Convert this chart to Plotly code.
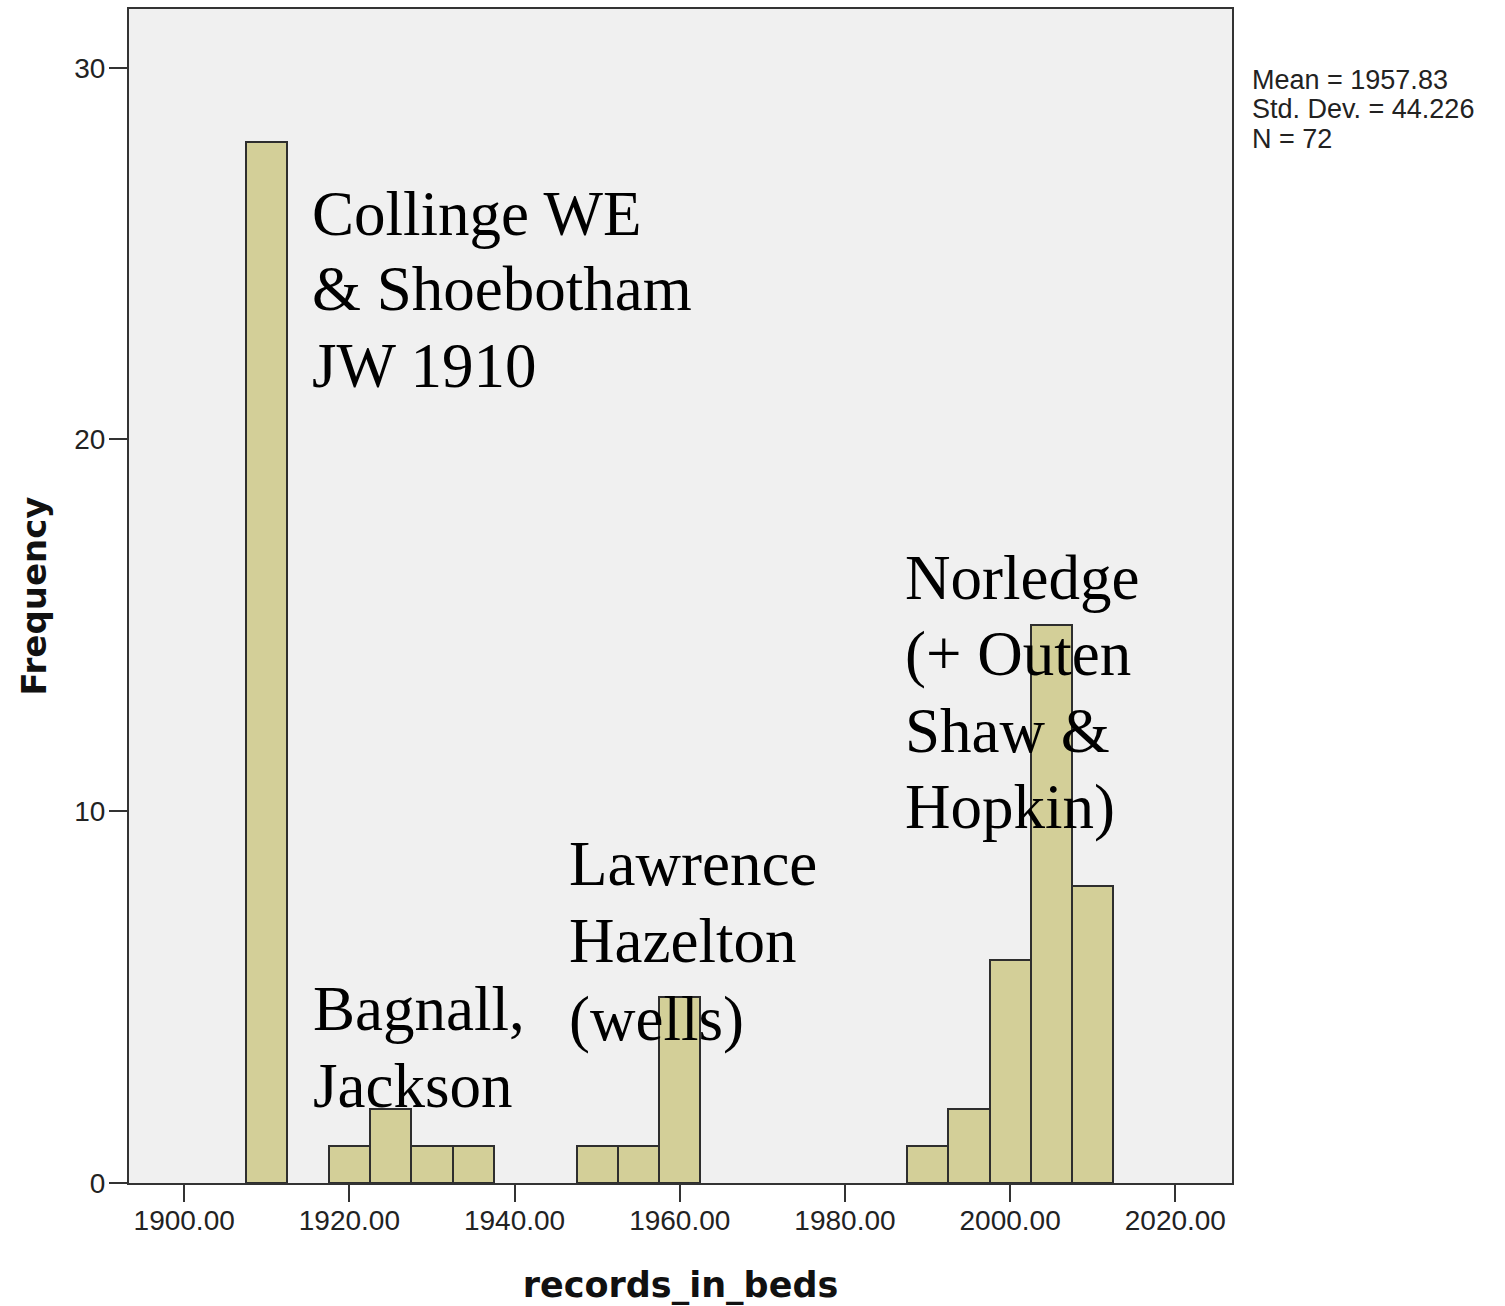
import plotly.graph_objects as go

# ---- data ----
bin_centers = [1910, 1920, 1925, 1930, 1935, 1950, 1955, 1960, 1990, 1995, 2000, 2005, 2010]
frequencies = [28, 1, 2, 1, 1, 1, 1, 5, 1, 2, 6, 15, 8]
bin_width = 5

x_tick_vals = [1900, 1920, 1940, 1960, 1980, 2000, 2020]
x_tick_text = ["1900.00", "1920.00", "1940.00", "1960.00", "1980.00", "2000.00", "2020.00"]
y_tick_vals = [0, 10, 20, 30]

stats_lines = ["Mean = 1957.83", "Std. Dev. = 44.226", "N = 72"]

labels = [
    (["Collinge WE", "& Shoebotham", "JW 1910"], 310, [235, 310, 387]),
    (["Bagnall,", "Jackson"], 311, [1030, 1107]),
    (["Lawrence", "Hazelton", "(wells)"], 567, [885, 962, 1040]),
    (["Norledge", "(+ Outen", "Shaw &", "Hopkin)"], 903, [599, 675, 752, 828]),
]

# ---- layout geometry ----
W, H = 1505, 1306
PX_L, PX_R, PX_T, PX_B = 129, 1232, 9, 1183
X0, X1 = 1893.32, 2026.86
Y0, Y1 = 0, 31.58


def xd(px):
    return X0 + (px - PX_L) / (PX_R - PX_L) * (X1 - X0)


def yd(py):
    return Y0 + (PX_B - py) / (PX_B - PX_T) * (Y1 - Y0)


fig = go.Figure()
fig.add_trace(go.Bar(
    x=bin_centers, y=frequencies, width=bin_width,
    marker=dict(color="#d3cf98", line=dict(color="#2e2e2e", width=2)),
    showlegend=False,
))

annotations = []
SERIF = 63
for lines, left_px, baselines in labels:
    for line, bl in zip(lines, baselines):
        annotations.append(dict(
            x=xd(left_px), y=yd(bl - 0.34 * SERIF), xref="x", yref="y",
            text=line, showarrow=False, xanchor="left", yanchor="middle",
            font=dict(family="Liberation Serif, Times New Roman, serif", size=SERIF, color="#000000"),
        ))

STAT = 27
for i, line in enumerate(stats_lines):
    bl = 88 + i * 29.5
    px = 1250
    py = bl - 0.3 * STAT
    annotations.append(dict(
        x=(px - PX_L) / (PX_R - PX_L), y=(PX_B - py) / (PX_B - PX_T),
        xref="paper", yref="paper",
        text=line, showarrow=False, xanchor="left", yanchor="middle",
        font=dict(family="Liberation Sans, Arial, sans-serif", size=STAT, color="#222222"),
    ))

fig.update_layout(
    width=W, height=H,
    margin=dict(l=PX_L, r=W - PX_R, t=PX_T, b=H - PX_B, pad=0),
    paper_bgcolor="#ffffff", plot_bgcolor="#f0f0f0",
    bargap=0,
    annotations=annotations,
    font=dict(family="Liberation Sans, Arial, sans-serif", color="#222222"),
)
fig.update_xaxes(
    range=[X0, X1], tickvals=x_tick_vals, ticktext=x_tick_text,
    automargin=False, ticklabelstandoff=-6,
    ticks="outside", ticklen=17, tickwidth=2, tickcolor="#333333",
    showline=True, linecolor="#333333", linewidth=2, mirror=True,
    showgrid=False, zeroline=False,
    tickfont=dict(size=28, color="#222222"),
    title=dict(text="records_in_beds", standoff=38,
               font=dict(family="DejaVu Sans, sans-serif", size=35, color="#111111", weight="bold")),
)
fig.update_yaxes(
    range=[Y0, Y1], tickvals=y_tick_vals,
    automargin=False, ticklabelstandoff=-2,
    ticks="outside", ticklen=18, tickwidth=2, tickcolor="#333333",
    showline=True, linecolor="#333333", linewidth=2, mirror=True,
    showgrid=False, zeroline=False,
    tickfont=dict(size=28, color="#222222"),
    title=dict(text="Frequency", standoff=17,
               font=dict(family="DejaVu Sans, sans-serif", size=34, color="#111111", weight="bold")),
)

fig.write_html("out.html", config={"displayModeBar": False},
               post_script="document.body.style.margin='0';")
